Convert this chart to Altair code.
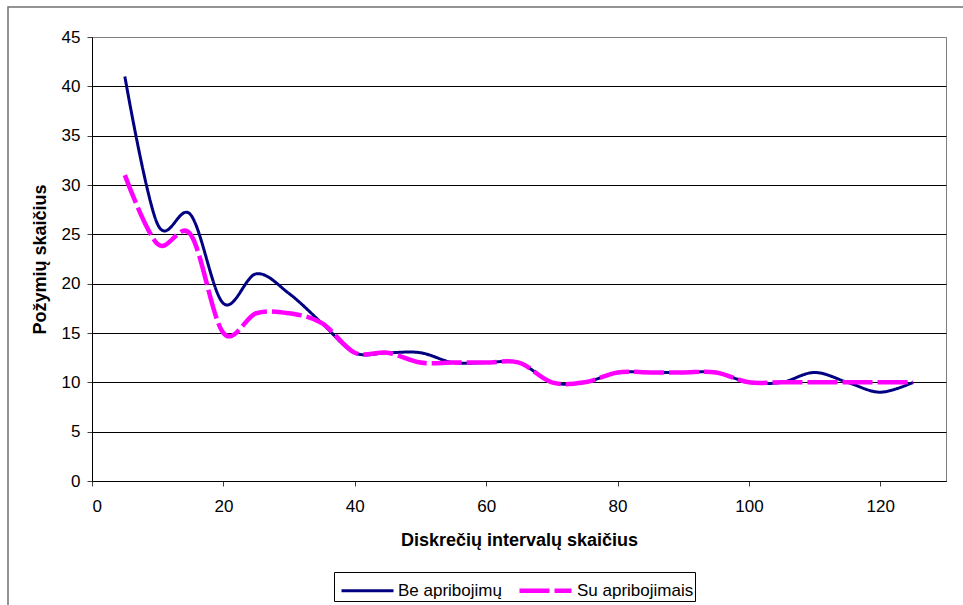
import altair as alt
import pandas as pd

# Number of discretisation intervals (x) and resulting number of features (y)
intervals = [5, 10, 15, 20, 25, 30, 35, 40, 45, 50, 55, 60, 65,
             70, 75, 80, 85, 90, 95, 100, 105, 110, 115, 120, 125]
be_apribojimu = [41, 26, 27, 18, 21, 19, 16, 13, 13, 13, 12, 12, 12,
                 10, 10, 11, 11, 11, 11, 10, 10, 11, 10, 9, 10]
su_apribojimais = [31, 24, 25, 15, 17, 17, 16, 13, 13, 12, 12, 12, 12,
                   10, 10, 11, 11, 11, 11, 10, 10, 10, 10, 10, 10]

series_names = ["Be apribojimų", "Su apribojimais"]
series_colors = ["#000080", "#FF00FF"]

rows = []
for name, values in zip(series_names, [be_apribojimu, su_apribojimais]):
    for x, v in zip(intervals, values):
        rows.append({"intervalai": x, "pozymiai": v, "serija": name})
df = pd.DataFrame(rows)

FONT = "Liberation Sans"

# Legend swatch: a horizontal stroke wider than the symbol box it sits in
legend = alt.Legend(
    title=None,
    orient="none",
    legendX=242,
    legendY=535,
    direction="horizontal",
    strokeColor="black",
    fillColor="white",
    padding=1,
    symbolType="M-1.733,0H1.733",
    symbolSize=900,
    symbolOffset=16,
    labelFont=FONT,
    labelFontSize=17,
    labelColor="black",
    labelOffset=14,
    columnPadding=8,
)

lines = (
    alt.Chart(df)
    .mark_line(interpolate="cardinal", clip=True)
    .encode(
        x=alt.X(
            "intervalai:Q",
            scale=alt.Scale(domain=[0, 130], nice=False),
            axis=alt.Axis(
                values=[0, 20, 40, 60, 80, 100, 120],
                title="Diskrečių intervalų skaičius",
                grid=False,
                tickSize=5,
                labelPadding=12,
                titlePadding=17,
            ),
        ),
        y=alt.Y(
            "pozymiai:Q",
            scale=alt.Scale(domain=[0, 45], nice=False),
            axis=alt.Axis(
                values=[0, 5, 10, 15, 20, 25, 30, 35, 40, 45],
                title="Požymių skaičius",
                grid=True,
                gridColor={
                    "condition": {"test": "datum.value === 45", "value": "#808080"},
                    "value": "#000000",
                },
                tickSize=5,
                labelPadding=7,
                titlePadding=12,
            ),
        ),
        color=alt.Color(
            "serija:N",
            scale=alt.Scale(domain=series_names, range=series_colors),
            legend=legend,
        ),
        strokeDash=alt.StrokeDash(
            "serija:N",
            scale=alt.Scale(domain=series_names, range=[[1, 0], [30, 5]]),
            legend=legend,
        ),
        strokeWidth=alt.StrokeWidth(
            "serija:N",
            scale=alt.Scale(domain=series_names, range=[3, 4.5]),
            legend=legend,
        ),
        order=alt.Order("intervalai:Q"),
    )
)

# Outer chart frame
frame = (
    alt.Chart(pd.DataFrame({"f": [0]}))
    .mark_rect(fillOpacity=0, stroke="#707070", strokeWidth=1.5)
    .encode(
        x=alt.value(-84),
        x2=alt.value(1000),
        y=alt.value(-30),
        y2=alt.value(800),
    )
)

chart = (
    alt.layer(frame, lines)
    .properties(
        width=854,
        height=444,
        autosize=alt.AutoSizeParams(type="none"),
        padding={"left": 92, "top": 37, "right": 17, "bottom": 124},
        background="white",
    )
    .configure_view(stroke="#808080", strokeWidth=1)
    .configure_axis(
        labelFont=FONT,
        labelFontSize=17,
        labelColor="black",
        titleFont=FONT,
        titleFontSize=18,
        titleFontWeight="bold",
        titleColor="black",
        domainColor="black",
        tickColor="#404040",
        gridWidth=1,
    )
)

chart.save("out.html", embed_options={"renderer": "svg", "actions": False})
